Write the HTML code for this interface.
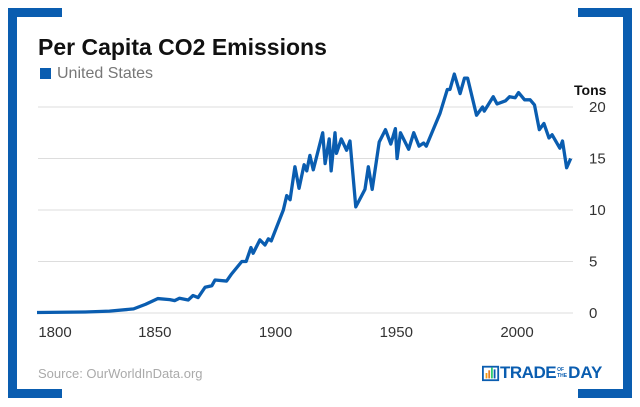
<!DOCTYPE html>
<html><head><meta charset="utf-8"><style>
body{margin:0;background:#fff;font-family:"Liberation Sans",sans-serif}
#wrap{position:relative;width:640px;height:407px;overflow:hidden}
.br{position:absolute;background:#0a5db0}
</style></head><body>
<div id="wrap">
<div class="br" style="left:8px;top:8px;width:9px;height:390px"></div>
<div class="br" style="left:8px;top:8px;width:54px;height:9px"></div>
<div class="br" style="left:8px;top:389px;width:54px;height:9px"></div>
<div class="br" style="left:623px;top:8px;width:9px;height:390px"></div>
<div class="br" style="left:578px;top:8px;width:54px;height:9px"></div>
<div class="br" style="left:578px;top:389px;width:54px;height:9px"></div>
<div style="position:absolute;left:38px;top:34px;font-size:23px;font-weight:bold;color:#111">Per Capita CO2 Emissions</div>
<div style="position:absolute;left:40px;top:68px;width:11px;height:11px;background:#0a5db0"></div>
<div style="position:absolute;left:57px;top:65px;font-size:16px;color:#777">United States</div>
<div style="position:absolute;left:38px;top:366px;font-size:13px;color:#aaa">Source: OurWorldInData.org</div>
<div style="position:absolute;left:482px;top:363px;height:20px;display:flex;align-items:center">
<svg width="18" height="18" viewBox="0 0 20 20"><rect x="1" y="3" width="17" height="15" fill="none" stroke="#0a5db0" stroke-width="2"/><rect x="4" y="10" width="2" height="6" fill="#f39c12"/><rect x="7" y="7" width="2" height="9" fill="#e67e22"/><rect x="10" y="4" width="2" height="12" fill="#2ecc71"/><rect x="13" y="6" width="2" height="10" fill="#0a5db0"/></svg>
<span style="font-weight:bold;color:#0a5db0;font-size:17px;letter-spacing:-0.5px">TRADE</span><span style="font-weight:bold;color:#0a5db0;font-size:5px;line-height:6px;margin:0 1px">OF<br>THE</span><span style="font-weight:bold;color:#0a5db0;font-size:17px">DAY</span></div>
<svg id="chart" width="640" height="407" style="position:absolute;left:0;top:0"></svg>
</div>
<script>
const years=[1800,1810,1820,1830,1840,1845,1850,1855,1857,1859,1862.6,1864.6,1866.7,1869.6,1872.4,1873.7,1878.5,1880.6,1884.8,1886.6,1888.6,1889.5,1892.3,1894.4,1895.8,1897,1902,1903.4,1904.8,1906.8,1908.5,1910.6,1911.7,1913,1914.4,1918.3,1919.3,1921,1921.8,1923.4,1924,1926,1928.2,1929.6,1932,1935.8,1937.2,1938.8,1941.7,1944.3,1946.5,1948.4,1949.1,1950.5,1953.9,1956,1958.2,1960.1,1961.2,1966.9,1969.9,1971,1972.8,1975.2,1977,1978.3,1982,1984.5,1985.2,1988.9,1990.5,1994,1995.7,1998,1999.4,2001.9,2004.2,2006,2008,2009.9,2012,2013.3,2016.5,2017.6,2019.3,2021];
const values=[0.05,0.07,0.1,0.18,0.4,0.85,1.4,1.3,1.2,1.43,1.26,1.7,1.5,2.5,2.65,3.2,3.1,3.8,5.0,5.0,6.35,5.8,7.1,6.6,7.2,7.0,10.0,11.4,11.0,14.2,12.1,14.4,13.8,15.3,13.9,17.5,14.5,16.9,13.8,17.5,15.5,16.9,15.8,16.7,10.3,12.0,14.2,12.0,16.6,17.8,16.4,17.9,15.0,17.5,15.9,17.5,16.2,16.5,16.2,19.4,21.7,21.7,23.2,21.3,22.8,22.8,19.2,20.0,19.6,21.0,20.3,20.6,21.0,20.9,21.4,20.7,20.7,20.2,17.8,18.4,17.0,17.3,16.0,16.7,14.1,15.0];
const yTicks=[0,5,10,15,20];
const xTicks=[1800,1850,1900,1950,2000];
const NS='http://www.w3.org/2000/svg';
const svg=document.getElementById('chart');
const xs=y=>37+(y-1800)*2.415;
const ys=v=>313-v*10.3;
function mk(t,a){const e=document.createElementNS(NS,t);for(const k in a)e.setAttribute(k,a[k]);svg.appendChild(e);return e;}
yTicks.forEach(t=>{
 const l=mk('line',{x1:38,x2:573,y1:ys(t),y2:ys(t),stroke:'#ddd','stroke-width':1});
 
 
 const tx=mk('text',{x:589,y:ys(t)+5,'font-size':15,fill:'#333','font-family':'Liberation Sans, sans-serif'});
 tx.textContent=t;
 
 
});
const tt=mk('text',{x:574,y:95,'font-size':14,'font-weight':'bold',fill:'#111','font-family':'Liberation Sans, sans-serif'});
tt.textContent='Tons';


xTicks.forEach(t=>{
 const tx=mk('text',{x:Math.max(xs(t)-3,55),y:337,'font-size':15,fill:'#333','text-anchor':'middle','font-family':'Liberation Sans, sans-serif'});
 tx.textContent=t;
 
 
});
const p=mk('polyline',{points:years.map((y,i)=>xs(y)+','+ys(values[i])).join(' '),fill:'none',stroke:'#0a5db0','stroke-width':3.3,'stroke-linejoin':'round'});


</script>
</body></html>
